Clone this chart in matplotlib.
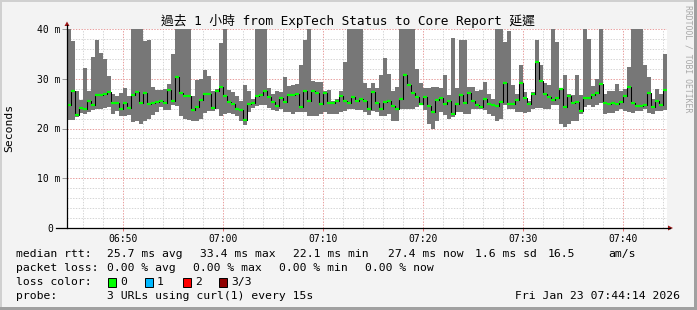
import numpy as np
import pandas as pd
import matplotlib
matplotlib.use("Agg")
import matplotlib.pyplot as plt
import matplotlib.dates as mdates
from matplotlib.patches import Rectangle, Polygon
from matplotlib.lines import Line2D

# 每 24 秒一個點，最大值 / 最小值 / 中位數 (ms)
rtt_max = [45, 37.5, 27.5, 25.8, 32.2, 27.5, 34.4, 37.8, 35.1, 34.0,
           30.6, 27.0, 26.5, 27.2, 28.2, 26.5, 45, 45, 45, 37.6,
           37.8, 28.4, 27.8, 27.8, 28.0, 29.0, 34.9, 45, 45, 45,
           45, 26.6, 29.8, 30.0, 31.7, 30.5, 27.5, 28.0, 37.2, 45,
           27.8, 27.4, 26.5, 25.5, 28.7, 27.5, 25.9, 45, 45, 45,
           28.1, 26.9, 27.6, 27.4, 30.4, 28.5, 28.8, 29.0, 32.8, 37.8,
           45, 29.5, 29.3, 29.4, 27.5, 27.8, 25.5, 26.0, 27.5, 33.3,
           45, 45, 45, 45, 29.2, 28.2, 29.2, 28.2, 30.8, 34.1,
           31.0, 27.5, 28.4, 45, 45, 45, 40.5, 32.0, 29.2, 28.2,
           28.2, 28.4, 28.4, 28.2, 30.8, 26.7, 38.1, 28.2, 37.8, 37.8,
           28.4, 28.4, 27.5, 27.8, 29.4, 27.0, 26.0, 45, 45, 37.3,
           39.5, 28.8, 27.0, 32.8, 27.4, 25.6, 27.4, 37.8, 32.8, 29.2,
           28.8, 40.5, 37.3, 28.2, 30.8, 27.0, 26.8, 30.8, 26.8, 45,
           38.0, 28.6, 30.0, 40.5, 27.0, 27.5, 27.5, 29.0, 27.5, 27.9,
           32.4, 40.5, 40.5, 40.5, 32.8, 30.4, 26.0, 28.0, 27.0, 35.0]
rtt_min = [21.7, 21.7, 22.4, 23.2, 23.0, 23.4, 23.7, 24.0, 24.0, 24.2,
           24.4, 23.0, 23.5, 22.5, 22.6, 22.7, 21.3, 21.5, 21.0, 21.5,
           22.0, 22.8, 23.3, 24.4, 23.8, 23.8, 24.8, 24.5, 22.6, 22.0,
           21.8, 21.5, 21.6, 22.0, 23.1, 23.6, 23.5, 24.0, 22.6, 23.0,
           23.2, 23.0, 22.5, 21.6, 20.8, 23.3, 24.2, 24.5, 24.8, 24.8,
           24.2, 23.7, 23.5, 24.0, 23.4, 23.4, 23.0, 23.4, 23.4, 23.4,
           22.5, 22.5, 22.5, 23.0, 23.4, 23.0, 23.0, 23.0, 23.4, 23.5,
           24.0, 24.0, 23.8, 23.8, 23.4, 22.8, 23.6, 23.3, 22.6, 22.6,
           23.0, 21.6, 21.6, 24.0, 24.0, 24.0, 24.0, 24.3, 24.7, 23.8,
           21.0, 20.0, 21.6, 23.4, 22.7, 22.0, 22.4, 23.4, 23.4, 23.0,
           23.0, 24.0, 24.0, 24.0, 23.8, 22.9, 22.6, 21.6, 22.0, 24.7,
           24.0, 24.0, 23.4, 23.4, 23.2, 23.4, 24.0, 24.2, 24.2, 24.0,
           24.0, 24.7, 24.7, 21.0, 20.3, 21.0, 21.6, 21.6, 23.0, 24.4,
           24.7, 24.4, 24.7, 25.2, 23.0, 23.2, 23.2, 23.6, 24.0, 23.6,
           23.4, 23.2, 23.6, 23.6, 24.0, 23.2, 23.0, 23.6, 23.6, 23.8]
rtt_med = [24.8, 27.5, 22.8, 24.2, 24.0, 25.6, 24.7, 26.7, 26.8, 27.0,
           27.3, 25.2, 25.2, 23.9, 25.1, 24.1, 26.7, 27.4, 25.2, 27.2,
           25.0, 25.1, 25.4, 25.5, 25.2, 27.7, 25.5, 30.3, 27.2, 26.6,
           26.6, 23.8, 24.4, 25.7, 26.9, 27.0, 24.1, 27.6, 28.4, 26.6,
           25.3, 25.0, 24.0, 23.7, 21.8, 25.0, 25.2, 26.5, 26.8, 27.5,
           26.3, 25.4, 24.6, 26.1, 25.3, 26.8, 26.7, 27.0, 24.3, 27.5,
           25.5, 27.5, 27.2, 25.0, 27.2, 25.1, 25.1, 25.6, 26.5, 25.6,
           25.1, 26.3, 25.5, 25.9, 25.5, 24.0, 27.4, 25.2, 24.0, 25.3,
           25.5, 24.5, 23.9, 26.0, 30.7, 28.7, 27.1, 26.3, 24.9, 26.3,
           24.5, 23.3, 25.7, 26.1, 25.0, 25.5, 23.0, 24.9, 26.8, 25.2,
           27.2, 25.5, 24.8, 24.4, 26.0, 24.9, 24.7, 24.5, 25.3, 29.2,
           25.0, 24.9, 25.8, 29.2, 26.2, 24.9, 27.0, 33.4, 29.6, 27.0,
           26.3, 25.7, 26.2, 27.9, 24.4, 26.5, 25.2, 25.4, 23.6, 26.2,
           26.2, 26.8, 27.2, 29.0, 25.1, 24.9, 25.1, 24.9, 25.3, 26.5,
           28.3, 25.2, 24.5, 24.5, 24.7, 27.2, 24.3, 25.5, 24.8, 27.8]

start_time = "2026-01-23 06:44:22"
step_seconds = 24
y_ticks = [0, 10, 20, 30, 40]
y_tick_labels = ["0 ", "10 m", "20 m", "30 m", "40 m"]

title = "過去 1 小時 from ExpTech Status to Core Report 延遲"
rtt_line = [("median rtt:", 16), ("25.7 ms avg", 107), ("33.4 ms max", 200),
            ("22.1 ms min", 293), ("27.4 ms now", 388), ("1.6 ms sd", 475),
            ("16.5", 548), ("am/s", 608)]
loss_line = [("packet loss:", 16), ("0.00 % avg", 107), ("0.00 % max", 193),
             ("0.00 % min", 279), ("0.00 % now", 365)]
loss_colors = [("0", "#00ff00", 108), ("1", "#00b8ff", 145),
               ("2", "#ff0000", 183), ("3/3", "#8f0000", 219)]
probe_text = "3 URLs using curl(1) every 15s"
stamp = "Fri Jan 23 07:44:14 2026"

W, H = 697, 310
MONO = "DejaVu Sans Mono"


def fx(x):
    return x / W


def fy(y):
    return 1 - y / H


t0 = pd.Timestamp(start_time)
edges = [(t0 + pd.Timedelta(seconds=step_seconds * k)).to_pydatetime()
         for k in range(len(rtt_med) + 1)]
edges = mdates.date2num(edges)

fig = plt.figure(figsize=(W / 100, H / 100), dpi=100, facecolor="#f3f3f3")
ax = fig.add_axes([fx(67), fy(228), 600 / W, 199 / H])
ax.set_facecolor("white")

mx = np.r_[rtt_max, rtt_max[-1]]
mn = np.r_[rtt_min, rtt_min[-1]]
md = np.r_[rtt_med, rtt_med[-1]]
ax.fill_between(edges, mn, mx, step="post", color="#777777", lw=0)
ax.step(edges, md, where="post", color="black", lw=0.75)
ax.hlines(rtt_med, edges[:-1], edges[1:], colors="#00ff00", lw=1.6)

ax.set_xlim(edges[0], edges[0] + 3600 / 86400)
ax.set_ylim(0, 40)
ax.set_yticks(y_ticks)
ax.set_yticklabels(y_tick_labels)
ax.set_yticks(np.arange(0, 41, 2), minor=True)
ax.xaxis.set_major_locator(mdates.MinuteLocator(byminute=range(0, 60, 10)))
ax.xaxis.set_minor_locator(mdates.MinuteLocator(byminute=range(0, 60, 2)))
ax.xaxis.set_major_formatter(mdates.DateFormatter("%H:%M"))

ax.set_axisbelow(True)
ax.grid(which="minor", color="#d6d6d6", ls=(0, (1.4, 1.4)), lw=0.72)
ax.grid(which="major", color="#e8a0a0", ls=(0, (1.4, 1.4)), lw=0.72)
for s in ax.spines.values():
    s.set_visible(False)

ax.tick_params(which="minor", length=0)
ax.tick_params(axis="x", which="major", length=2.5, width=0.7, color="#e07070",
               pad=1.5, labelsize=7)
ax.tick_params(axis="y", which="major", length=3.5, width=0.7, color="#999999",
               pad=1.5, labelsize=7)
for lab in ax.get_xticklabels() + ax.get_yticklabels():
    lab.set_family(MONO)

# 座標軸與箭頭
fig.add_artist(Line2D([fx(56), fx(670)], [fy(228), fy(228)], color="black", lw=0.9))
fig.add_artist(Line2D([fx(67), fx(67)], [fy(228), fy(25)], color="black", lw=0.9))
fig.add_artist(Polygon([[fx(64.5), fy(26)], [fx(69.5), fy(26)], [fx(67), fy(21.5)]],
                       closed=True, color="#a01818", lw=0))
fig.add_artist(Polygon([[fx(668), fy(225.5)], [fx(668), fy(230.5)], [fx(673), fy(228)]],
                       closed=True, color="#a01818", lw=0))

fig.text(fx(347.5), fy(21.5), title, ha="center", va="center", fontsize=9.2,
         family=[MONO, "Noto Sans CJK TC"])
fig.text(fx(9.5), fy(128), "Seconds", rotation=90, ha="center", va="center",
         fontsize=8.2, family=MONO)
fig.text(fx(688), fy(5), "RRDTOOL / TOBI OETIKER", rotation=270, ha="center",
         va="top", fontsize=5.9, family=MONO, color="#a8a8a8")

for txt, x in rtt_line:
    fig.text(fx(x), fy(254), txt, ha="left", va="center", fontsize=8.2, family=MONO)
for txt, x in loss_line:
    fig.text(fx(x), fy(268), txt, ha="left", va="center", fontsize=8.2, family=MONO)
fig.text(fx(16), fy(282), "loss color:", ha="left", va="center", fontsize=8.2, family=MONO)
for txt, col, x in loss_colors:
    fig.add_artist(Rectangle((fx(x), fy(287)), 8 / W, 9 / H, facecolor=col,
                             edgecolor="black", lw=0.7))
    fig.text(fx(x + 12), fy(282), txt, ha="left", va="center", fontsize=8.2, family=MONO)
fig.text(fx(16), fy(296), "probe:", ha="left", va="center", fontsize=8.2, family=MONO)
fig.text(fx(107), fy(296), probe_text, ha="left", va="center", fontsize=8.2, family=MONO)
fig.text(fx(680), fy(296), stamp, ha="right", va="center", fontsize=8.2, family=MONO)

# 外框
fig.add_artist(Rectangle((0, fy(2)), 1, 2 / H, color="#d0d0d0", lw=0))
fig.add_artist(Rectangle((0, 0), 2 / W, 1, color="#d0d0d0", lw=0))
fig.add_artist(Rectangle((0, 0), 1, 3 / H, color="#a0a0a0", lw=0))
fig.add_artist(Rectangle((fx(694), 0), 3 / W, 1, color="#a0a0a0", lw=0))

fig.savefig("out.png", dpi=100, facecolor=fig.get_facecolor())
